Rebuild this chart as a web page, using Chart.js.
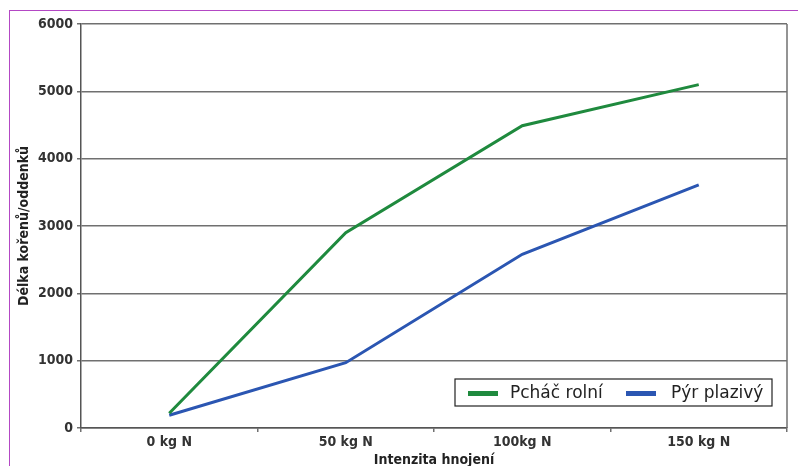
<!DOCTYPE html>
<html lang="cs">
<head>
<meta charset="UTF-8" />
<title>Délka kořenů/oddenků</title>
<script src="https://cdn.jsdelivr.net/npm/chart.js"></script>
<style>
  html, body { margin: 0; padding: 0; background: #fff; overflow: hidden; }
  .ramecek {
    position: absolute; left: 9px; top: 10px; width: 900px; height: 600px;
    border-left: 1.5px solid #b347c4; border-top: 1.5px solid #b347c4;
  }
  #graf { position: absolute; left: 0; top: 0; }
</style>
</head>
<body>
<div class="ramecek"></div>
<canvas id="graf" width="798" height="466"></canvas>

<script>
  // kategorie a naměřené hodnoty
  const davky = ['0 kg N', '50 kg N', '100kg N', '150 kg N']
  const pchac = [220, 2900, 4490, 5100]
  const pyr = [190, 970, 2580, 3610]
  const nazvy = ['Pcháč rolní', 'Pýr plazivý']
  const barvy = ['#1f8a3e', '#2b56b2']

  const pismo = "'DejaVu Sans Condensed', 'DejaVu Sans', sans-serif"

  // legenda uvnitř grafu vpravo dole + rámeček plochy
  const legendaUvnitr = {
    id: 'legendaUvnitr',
    afterDraw(chart) {
      const ctx = chart.ctx
      const a = chart.chartArea
      ctx.save()
      // pravý okraj plochy
      ctx.strokeStyle = '#707070'
      ctx.lineWidth = 1.5
      ctx.beginPath()
      ctx.moveTo(a.right, a.top)
      ctx.lineTo(a.right, a.bottom)
      ctx.stroke()

      const x0 = 455, y0 = 379, w = 317, h = 27
      ctx.fillStyle = '#fff'
      ctx.fillRect(x0, y0, w, h)
      ctx.strokeStyle = '#222'
      ctx.lineWidth = 1.2
      ctx.strokeRect(x0, y0, w, h)

      ctx.font = "17px 'DejaVu Sans', sans-serif"
      ctx.textBaseline = 'middle'
      const pozice = [[468, 510], [626, 671]]
      chart.data.datasets.forEach((ds, i) => {
        ctx.strokeStyle = ds.borderColor
        ctx.lineWidth = 5
        ctx.beginPath()
        ctx.moveTo(pozice[i][0], y0 + h / 2 + 1)
        ctx.lineTo(pozice[i][0] + 30, y0 + h / 2 + 1)
        ctx.stroke()
        ctx.fillStyle = '#222'
        ctx.fillText(ds.label, pozice[i][1], y0 + h / 2 + 1)
      })
      ctx.restore()
    }
  }

  new Chart(document.getElementById('graf'), {
    type: 'line',
    data: {
      labels: davky,
      datasets: [
        { label: nazvy[0], data: pchac, borderColor: barvy[0], borderWidth: 3, pointRadius: 0, tension: 0 },
        { label: nazvy[1], data: pyr, borderColor: barvy[1], borderWidth: 3, pointRadius: 0, tension: 0 }
      ]
    },
    options: {
      responsive: false,
      animation: false,
      layout: { padding: { left: 0, top: 24, right: 11, bottom: 0 } },
      plugins: { legend: { display: false }, tooltip: { enabled: false } },
      scales: {
        x: {
          offset: true,
          grid: { display: true, drawOnChartArea: false, drawTicks: true, tickLength: 4, color: '#707070', lineWidth: 1.5, offset: true },
          border: { color: '#555', width: 1.5 },
          ticks: { color: '#333', font: { family: pismo, size: 14, weight: 'bold' }, padding: 2, maxRotation: 0 },
          title: { display: true, text: 'Intenzita hnojení', color: '#222', font: { family: pismo, size: 14, weight: 'bold', lineHeight: 0.8 }, padding: { top: 4, bottom: 0 } },
          afterFit(s) { s.height = 38 }
        },
        y: {
          min: 0,
          max: 6000,
          grid: { color: '#707070', lineWidth: 1.5, tickLength: 4 },
          border: { color: '#555', width: 1.5 },
          ticks: { stepSize: 1000, color: '#333', font: { family: pismo, size: 14, weight: 'bold' }, padding: 4, callback: v => String(v) },
          title: { display: true, text: 'Délka kořenů/oddenků', color: '#222', font: { family: pismo, size: 14, weight: 'bold' }, padding: { top: 16, bottom: 0 } },
          afterFit(s) { s.width = 81 }
        }
      }
    },
    plugins: [legendaUvnitr]
  })
</script>
</body>
</html>
